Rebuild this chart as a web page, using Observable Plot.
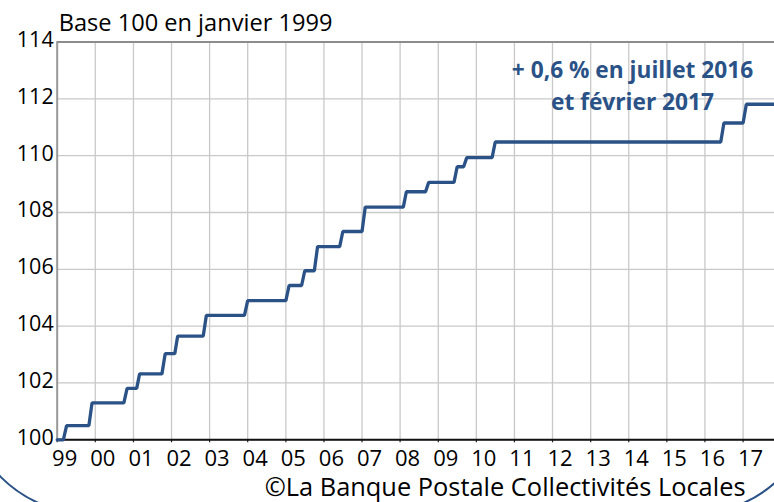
<!DOCTYPE html>
<html><head><meta charset="utf-8">
<script src="https://cdn.jsdelivr.net/npm/d3@7"></script>
<script src="https://cdn.jsdelivr.net/npm/@observablehq/plot@0.6"></script>
<style>
html,body{margin:0;padding:0;background:#fff;overflow:hidden}
#wrap{position:relative;width:774px;height:502px;overflow:hidden;background:#fff}
#wrap svg{position:absolute;left:0;top:0}
#frame{position:absolute;left:-37px;right:-45px;top:-300px;bottom:-13px;border:2px solid #2a5287;border-radius:127px;pointer-events:none}
</style></head><body><div id="wrap"><div id="frame"></div></div>
<script>
// Months at which the index changes, and the index level from that month on
const changeMonths = ["1999-01","1999-04","1999-12","2000-11","2001-03","2001-11","2002-03","2002-12","2004-01","2005-02","2005-07","2005-11","2006-07","2007-02","2008-03","2008-10","2009-07","2009-10","2010-07","2016-07","2017-02"];
const indexValues = [100,100.5,101.30,101.81,102.32,103.03,103.65,104.38,104.90,105.43,105.95,106.80,107.33,108.19,108.73,109.06,109.61,109.93,110.48,111.15,111.81];
const lastDate = "2017-10-29";
const yearLabels = ["99","00","01","02","03","04","05","06","07","08","09","10","11","12","13","14","15","16","17"];
const yTicks = [100,102,104,106,108,110,112,114];
const titleText = "Base 100 en janvier 1999";
const noteText = "+ 0,6 % en juillet 2016\net février 2017";
const captionText = "©La Banque Postale Collectivités Locales";

const parseMonth = d3.utcParse("%Y-%m");
const parseDay = d3.utcParse("%Y-%m-%d");
const startDate = parseMonth(changeMonths[0]);
const endDate = parseDay(lastDate);
const yearDates = yearLabels.map((_, i) => d3.utcYear.offset(startDate, i));

// polyline vertices: each change rises over one month (monthly series)
const vertices = [{date: startDate, value: indexValues[0]}];
for (let i = 1; i < changeMonths.length; i++) {
  const m = parseMonth(changeMonths[i]);
  vertices.push({date: d3.utcMonth.offset(m, -1), value: indexValues[i - 1]});
  vertices.push({date: m, value: indexValues[i]});
}
vertices.push({date: endDate, value: indexValues[indexValues.length - 1]});

const blue = "#2a5287";
const font = "'Open Sans'";

const chart = Plot.plot({
  width: 774,
  height: 502,
  marginLeft: 56.7,
  marginRight: 0,
  marginTop: 41.5,
  marginBottom: 62.7,
  style: {fontFamily: font, fontSize: "22px", color: "#000", background: "transparent", overflow: "visible"},
  x: {type: "utc", domain: [startDate, endDate], axis: null},
  y: {domain: [yTicks[0], yTicks[yTicks.length - 1]], axis: null},
  marks: [
    Plot.ruleY(yTicks, {stroke: "#c9c9c9", strokeWidth: 1.3}),
    Plot.ruleX(yearDates, {stroke: "#c9c9c9", strokeWidth: 1.3}),
    Plot.axisX(yearDates, {tickSize: 3, tickFormat: () => "", label: null, stroke: "#222", strokeWidth: 1.2}),
    Plot.ruleY([yTicks[yTicks.length - 1]], {stroke: "#8c8c8c", strokeWidth: 2}),
    Plot.ruleX([startDate], {stroke: "#9a9a9a", strokeWidth: 2}),
    Plot.ruleY([yTicks[0]], {stroke: "#111", strokeWidth: 2}),
    Plot.line(vertices, {x: "date", y: "value", stroke: blue, strokeWidth: 3.3, strokeLinejoin: "miter"}),
    Plot.text(yTicks, {y: d => d, frameAnchor: "left", textAnchor: "end", dx: -3.5, dy: -2, fontSize: 21.5}),
    Plot.text(yearDates, {x: d => d, frameAnchor: "bottom", text: (d, i) => yearLabels[i], lineAnchor: "top", dx: 7.5, dy: 10.5, fontSize: 22}),
    Plot.text([titleText], {frameAnchor: "top-left", textAnchor: "start", lineAnchor: "bottom", dx: 1.5, dy: -11.5, fontSize: 23.6}),
    Plot.text([noteText], {frameAnchor: "top-right", textAnchor: "middle", lineAnchor: "top", dx: -142, dy: 14, fontSize: 22.7, fontWeight: "bold", fill: blue, lineHeight: 1.38}),
    Plot.text([captionText], {frameAnchor: "bottom-right", textAnchor: "end", lineAnchor: "bottom", dx: -29, dy: 56.5, fontSize: 25.4})
  ]
});
document.getElementById("wrap").insertBefore(chart, document.getElementById("frame"));
</script>
</body></html>
